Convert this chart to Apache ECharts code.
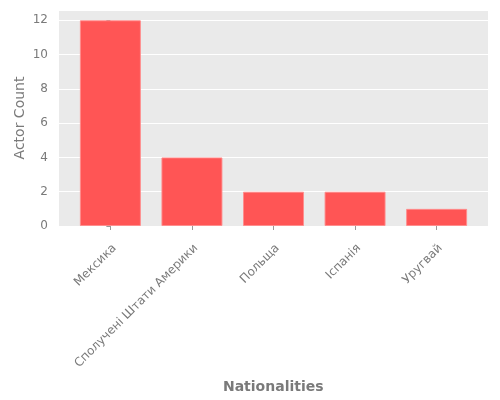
<!DOCTYPE html>
<html>
<head>
<meta charset="utf-8">
<script src="https://cdn.jsdelivr.net/npm/echarts@6/dist/echarts.min.js"></script>
<style>
  html, body { margin: 0; padding: 0; background: #fff; }
  #chart { width: 500px; height: 400px; }
</style>
</head>
<body>
<div id="chart"></div>
<script>
var nationalities = ['Мексика', 'Сполучені Штати Америки', 'Польща', 'Іспанія', 'Уругвай']
var actorCounts = [12, 4, 2, 2, 1]
var yTicks = [0, 2, 4, 6, 8, 10, 12]

var barData = actorCounts.map(function (v, i) { return [i, v] })
var textGray = '#7a7a7a'
var font = 'DejaVu Sans'

var chart = echarts.init(document.getElementById('chart'))

var option = {
    animation: false,
    textStyle: { fontFamily: font },
    grid: [
        // panel with the grey background
        { left: 59, right: 12, top: 10, bottom: 174, show: true, backgroundColor: '#EAEAEA', borderWidth: 0 },
        // category grid, only for the tick labels
        { left: 69.5, right: 23, top: 10, bottom: 174 }
    ],
    xAxis: [
        {
            type: 'value', gridIndex: 0, min: -0.63, max: 4.63,
            show: false, splitLine: { show: false }
        },
        {
            type: 'category', gridIndex: 1, data: nationalities,
            axisLine: { show: false },
            axisTick: { show: true, alignWithLabel: true, length: 4, lineStyle: { color: '#999' } },
            axisLabel: {
                rotate: 45, color: textGray, fontSize: 12, fontFamily: font,
                margin: 16, verticalAlign: 'top'
            },
            name: 'Nationalities', nameLocation: 'middle', nameGap: 154,
            nameTextStyle: { color: textGray, fontSize: 14, fontWeight: 'bold', fontFamily: font }
        }
    ],
    yAxis: [
        {
            type: 'value', gridIndex: 0, min: 0, max: 12.6, interval: 2,
            axisLine: { show: false },
            axisTick: { show: true, length: 4, lineStyle: { color: '#999' } },
            axisLabel: {
                color: textGray, fontSize: 12, fontFamily: font, margin: 11,
                showMaxLabel: false,
                formatter: function (v) { return yTicks.indexOf(v) >= 0 ? v : '' }
            },
            splitLine: { show: true, lineStyle: { color: '#fff', width: 1 } },
            name: 'Actor Count', nameLocation: 'middle', nameGap: 32, nameRotate: 90,
            nameMoveOverlap: false,
            nameTextStyle: { color: textGray, fontSize: 14, fontFamily: font }
        },
        { type: 'value', gridIndex: 1, show: false, min: 0, max: 12.6 }
    ],
    series: [
        {
            type: 'bar',
            xAxisIndex: 0, yAxisIndex: 0,
            data: barData,
            barWidth: 61,
            itemStyle: { color: '#FF5555', borderColor: 'rgba(255,140,140,0.9)', borderWidth: 1 }
        }
    ]
}

chart.setOption(option)
</script>
</body>
</html>
